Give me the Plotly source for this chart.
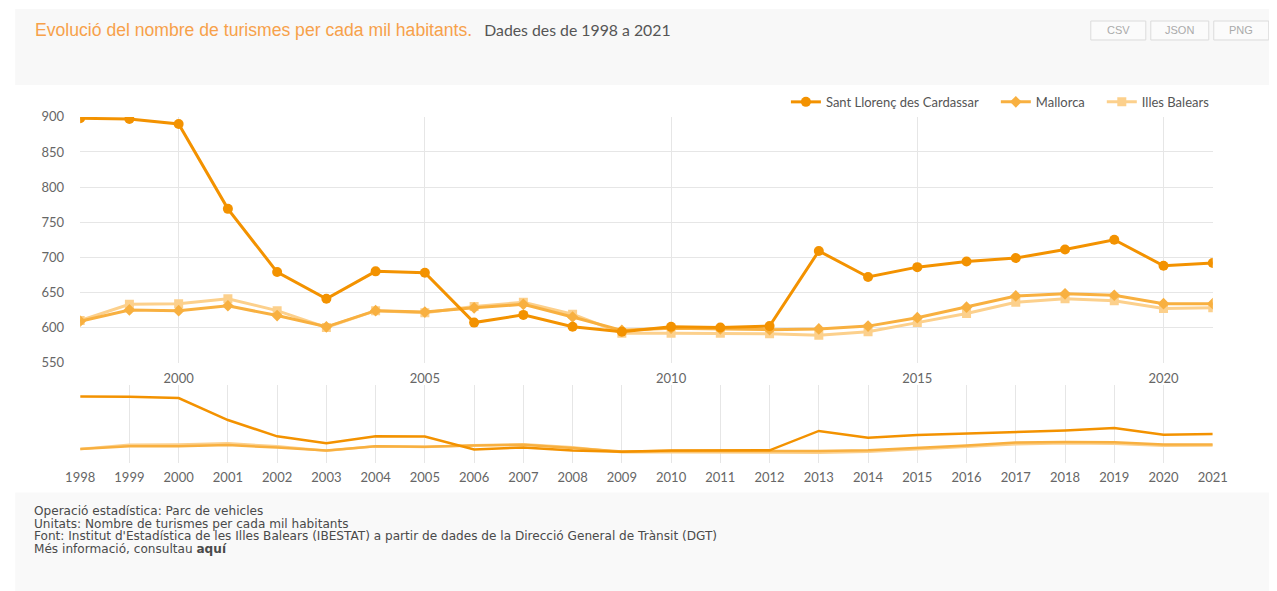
import plotly.graph_objects as go

years = list(range(1998, 2022))
sant_llorenc = [898, 897, 890, 769, 679, 641, 680, 678, 607, 618, 601, 594, 601, 600, 602, 709, 672, 686, 694, 699, 711, 725, 688, 692]
mallorca = [609, 625, 624, 631, 617, 601, 624, 622, 628, 633, 615, 596, 599, 598, 597, 598, 602, 614, 629, 645, 648, 646, 634, 634]
illes_balears = [610, 633, 634, 641, 624, 600, 624, 621, 630, 636, 619, 592, 592, 592, 591, 589, 594, 607, 620, 636, 641, 638, 627, 628]

series_names = ["Sant Llorenç des Cardassar", "Mallorca", "Illes Balears"]
main_ticks = [550, 600, 650, 700, 750, 800, 850, 900]
x_ticks = [2000, 2005, 2010, 2015, 2020]

colors = ["#f39200", "#f8b040", "#fcd08c"]
symbols = ["circle", "diamond", "square"]

FW, FH = 1285, 591
SX, BX = 0.977, 14.0
SY, BY = 0.974, 8.2


def px(x):
    return ((x - BX) / SX - 8) / FW


def py(y):
    return 1 - ((y - BY) / SY - 8) / FH


legend_ids = ["legend", "legend2", "legend3"]
legend_text_x = [827, 1037, 1143]

fig = go.Figure()
series = [sant_llorenc, mallorca, illes_balears]
for i in [2, 1, 0]:
    fig.add_trace(go.Scatter(
        x=years, y=series[i], name=series_names[i], mode="lines+markers",
        line=dict(color=colors[i], width=3),
        marker=dict(symbol=symbols[i], size=10 if i == 0 else 9, color=colors[i]),
        xaxis="x", yaxis="y", legend=legend_ids[i],
    ))
for i in [2, 1, 0]:
    fig.add_trace(go.Scatter(
        x=years, y=series[i], mode="lines", showlegend=False, hoverinfo="skip",
        line=dict(color=colors[i], width=2.5),
        xaxis="x2", yaxis="y2",
    ))

grid = "#e6e6e6"
tickfont = dict(family="Lato, sans-serif", size=13, color="#666666")
fig.update_layout(
    width=FW, height=FH,
    margin=dict(l=0, r=0, t=0, b=0),
    paper_bgcolor="white", plot_bgcolor="white",
    font=dict(family="Lato, sans-serif"),
    xaxis=dict(domain=[px(79), px(1212)], range=[1998, 2021], tickvals=x_ticks,
               showgrid=True, gridcolor=grid, gridwidth=1, zeroline=False,
               tickfont=tickfont, ticks="", showline=False, ticklabelstandoff=6, anchor="y"),
    yaxis=dict(domain=[py(363), py(117)], range=[550, 900], tickvals=main_ticks,
               showgrid=True, gridcolor=grid, gridwidth=1, zeroline=False,
               tickfont=tickfont, ticks="", ticklabelstandoff=15, anchor="x"),
    xaxis2=dict(domain=[px(79), px(1212)], range=[1998, 2021], tickvals=years,
                showgrid=True, gridcolor=grid, gridwidth=1, zeroline=False,
                tickfont=tickfont, ticks="", ticklabelstandoff=5, anchor="y2"),
    yaxis2=dict(domain=[py(463), py(385)], range=[535, 964], showgrid=False,
                showticklabels=False, zeroline=False, anchor="x2"),
    showlegend=True,
)
for lid, tx in zip(legend_ids, legend_text_x):
    fig.update_layout({lid: dict(orientation="h", x=px(tx - 42), xanchor="left", y=py(102), yanchor="middle",
                                 font=dict(family="Lato, sans-serif", size=13, color="#555555"),
                                 bgcolor="rgba(0,0,0,0)", itemwidth=30)})

shapes = [
    dict(type="rect", xref="paper", yref="paper", x0=px(14), x1=px(1272), y0=py(85), y1=py(9),
         fillcolor="#f8f8f8", line=dict(width=0), layer="below"),
    dict(type="rect", xref="paper", yref="paper", x0=px(14), x1=px(1272), y0=py(600), y1=py(493),
         fillcolor="#f9f9f9", line=dict(width=0), layer="below"),
]
buttons = [("CSV", 1090, 1145), ("JSON", 1150, 1208), ("PNG", 1213, 1268)]
annotations = []
for label, a, b in buttons:
    shapes.append(dict(type="rect", xref="paper", yref="paper", x0=px(a), x1=px(b), y0=py(40), y1=py(21),
                       fillcolor="#fbfbfb", line=dict(color="#dcdcdc", width=1)))
    annotations.append(dict(xref="paper", yref="paper", x=px((a + b) / 2), y=py(30.5), text=label,
                            xanchor="center", yanchor="middle", showarrow=False,
                            font=dict(family="Liberation Sans, Arial", size=11, color="#aaaaaa")))

annotations.append(dict(
    xref="paper", yref="paper", x=px(32), y=py(30), xanchor="left", yanchor="middle", showarrow=False,
    text="<span style='color:#f7a14a;font-size:17.6px;font-family:Liberation Sans, Arial'>Evolució del nombre de turismes per cada mil habitants.</span>"
         "<span style='color:#555555;font-size:15.8px;font-family:Lato'>&nbsp;&nbsp;&nbsp;Dades des de 1998 a 2021</span>",
))
footer_lines = [
    "Operació estadística: Parc de vehicles",
    "Unitats: Nombre de turismes per cada mil habitants",
    "Font: Institut d'Estadística de les Illes Balears (IBESTAT) a partir de dades de la Direcció General de Trànsit (DGT)",
    "Més informació, consultau <b>aquí</b>",
]
footer_y = [512, 525, 537, 550]
for line, yy in zip(footer_lines, footer_y):
    annotations.append(dict(
        xref="paper", yref="paper", x=px(31), y=py(yy), xanchor="left", yanchor="middle", showarrow=False,
        align="left", text=line,
        font=dict(family="DejaVu Sans", size=12.1, color="#4a4a4a"),
    ))
fig.update_layout(shapes=shapes, annotations=annotations)

fig.write_html("out.html")
